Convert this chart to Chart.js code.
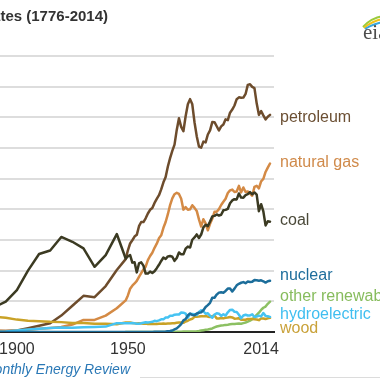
<!DOCTYPE html>
<html>
<head>
<meta charset="utf-8">
<script src="https://cdn.jsdelivr.net/npm/chart.js@4.4.1/dist/chart.umd.min.js"></script>
<style>
  html, body { margin: 0; padding: 0; background: #fff; }
  body { width: 380px; height: 380px; overflow: hidden; position: relative;
         font-family: 'Liberation Sans', Arial, sans-serif; }
  #chart { position: absolute; left: 0; top: 0; }
  .title { position: absolute; right: 272px; top: 8px; white-space: nowrap;
           font-weight: bold; font-size: 15px; line-height: 16px; color: #333; }
  .lbl { position: absolute; left: 280px; white-space: nowrap; font-size: 16px; line-height: 16px; }
  .source { position: absolute; right: 250px; top: 362px; white-space: nowrap;
            font-size: 14px; line-height: 14px; color: #777; }
  .source i { color: #2a78b6; }
  .rule { position: absolute; left: 140px; right: 0; top: 377px; height: 1px; background: #dcdcdc; }
  .logo { position: absolute; left: 363px; top: 22px; font-family: 'Liberation Serif', serif;
          font-size: 21px; line-height: 21px; color: #4d4d4d; }
  .swoosh { position: absolute; left: 359px; top: 13px; }
</style>
</head>
<body>
<canvas id="chart" width="380" height="380"></canvas>
<div class="title">History of energy consumption in the United States (1776-2014)</div>
<svg class="swoosh" width="24" height="18">
  <path d="M4 14 Q12 5 24 3" stroke="#9bcb3c" stroke-width="2" fill="none"/>
  <path d="M5 15 Q13 8 24 6" stroke="#f2c318" stroke-width="2" fill="none"/>
  <path d="M6 16 Q14 11 24 9" stroke="#3aa6dd" stroke-width="2" fill="none"/>
</svg>
<div class="logo">eia</div>
<div class="source">Source: U.S. Energy Information Administration, <i>Monthly Energy Review</i></div>
<div class="rule"></div>
<script>
/* ================================================================
   US energy consumption by source · Chart.js
   quadrillion Btu, 5-year steps before 1949, annual after
   ================================================================ */

const years = [
    1890, 1895, 1900, 1905, 1910, 1915, 1920, 1925, 1930, 1935, 1940, 1945,
    1949,
    1950, 1951, 1952, 1953, 1954, 1955, 1956, 1957, 1958, 1959,
    1960, 1961, 1962, 1963, 1964, 1965, 1966, 1967, 1968, 1969,
    1970, 1971, 1972, 1973, 1974, 1975, 1976, 1977, 1978, 1979,
    1980, 1981, 1982, 1983, 1984, 1985, 1986, 1987, 1988, 1989,
    1990, 1991, 1992, 1993, 1994, 1995, 1996, 1997, 1998, 1999,
    2000, 2001, 2002, 2003, 2004, 2005, 2006, 2007, 2008, 2009,
    2010, 2011, 2012, 2013, 2014,
];

const petroleum = [
    0.16, 0.17, 0.23, 0.61, 1.01, 1.42, 2.68, 4.28, 5.90, 5.68, 7.49, 10.11,
    11.88,
    13.32, 14.43, 14.96, 15.56, 15.84, 17.25, 17.94, 17.93, 18.53, 19.32,
    19.92, 20.22, 21.05, 21.70, 22.30, 23.25, 24.40, 25.28, 26.98, 28.34,
    29.52, 30.56, 32.95, 34.84, 33.45, 32.73, 35.18, 37.12, 37.97, 37.12,
    34.20, 31.93, 30.23, 30.05, 31.05, 30.92, 32.20, 32.87, 34.22, 34.21,
    33.55, 32.85, 33.53, 33.84, 34.67, 34.55, 35.76, 36.27, 36.93, 37.96,
    38.26, 38.19, 38.22, 38.81, 40.29, 40.39, 39.96, 39.77, 37.28, 35.40,
    36.01, 35.32, 34.67, 35.10, 35.40,
];

const naturalGas = [
    0.26, 0.15, 0.25, 0.37, 0.54, 0.67, 0.81, 1.21, 1.97, 1.97, 2.67, 3.87,
    5.15,
    5.97, 7.05, 7.55, 7.91, 8.33, 9.00, 9.61, 10.19, 10.66, 11.72,
    12.39, 12.93, 13.73, 14.40, 15.29, 15.77, 16.99, 17.94, 19.21, 20.68,
    21.79, 22.47, 22.70, 22.51, 21.73, 19.95, 20.35, 19.93, 20.00, 20.67,
    20.24, 19.74, 18.36, 17.20, 18.39, 17.70, 16.59, 17.64, 18.45, 19.60,
    19.60, 20.03, 20.71, 21.23, 21.73, 22.67, 23.09, 23.22, 22.83, 22.91,
    23.82, 22.77, 23.56, 22.83, 22.91, 22.56, 22.22, 23.66, 23.84, 23.42,
    24.57, 24.95, 26.09, 26.81, 27.47,
];

const coal = [
    4.06, 4.95, 6.84, 10.00, 12.71, 13.29, 15.50, 14.71, 13.64, 10.63, 12.54, 15.97,
    11.98,
    12.35, 12.55, 11.31, 11.37, 9.72, 11.17, 11.35, 10.82, 9.53, 9.52,
    9.84, 9.62, 9.91, 10.41, 10.96, 11.58, 12.14, 11.91, 12.33, 12.38,
    12.27, 11.60, 12.08, 12.97, 12.66, 12.66, 13.58, 13.92, 13.77, 15.04,
    15.42, 15.91, 15.32, 15.89, 17.07, 17.48, 17.26, 18.01, 18.85, 18.93,
    19.17, 18.99, 19.12, 19.84, 19.91, 20.09, 21.00, 21.45, 21.66, 21.62,
    22.58, 21.91, 21.90, 22.32, 22.47, 22.80, 22.45, 22.75, 22.39, 19.69,
    20.83, 19.66, 17.38, 18.04, 17.99,
];

const nuclear = [
    0, 0, 0, 0, 0, 0, 0, 0, 0, 0, 0, 0,
    0,
    0, 0, 0, 0, 0, 0, 0, 0, 0, 0,
    0.01, 0.02, 0.03, 0.04, 0.04, 0.04, 0.06, 0.09, 0.14, 0.15,
    0.24, 0.41, 0.58, 0.91, 1.27, 1.90, 2.11, 2.70, 3.02, 2.78,
    2.74, 3.01, 3.13, 3.20, 3.55, 4.08, 4.38, 4.75, 5.59, 5.60,
    6.10, 6.42, 6.48, 6.41, 6.69, 7.08, 7.09, 6.60, 7.07, 7.61,
    7.86, 8.03, 8.14, 7.96, 8.22, 8.16, 8.21, 8.46, 8.43, 8.36,
    8.43, 8.27, 8.06, 8.27, 8.34,
];

const otherRenewables = [
    null, null, null, null, null, null, null, null, null, null, null, null,
    0,
    0, 0, 0, 0, 0, 0, 0, 0, 0, 0,
    0, 0, 0, 0, 0, 0, 0, 0, 0, 0,
    0.01, 0.01, 0.03, 0.05, 0.06, 0.07, 0.08, 0.08, 0.07, 0.09,
    0.10, 0.13, 0.18, 0.24, 0.30, 0.36, 0.42, 0.50, 0.58, 0.75,
    0.90, 0.98, 1.05, 1.10, 1.16, 1.20, 1.25, 1.30, 1.32, 1.36,
    1.40, 1.35, 1.45, 1.55, 1.68, 1.85, 2.10, 2.35, 2.80, 3.15,
    3.60, 3.95, 4.15, 4.60, 4.94,
];

const hydroelectric = [
    0.02, 0.09, 0.25, 0.39, 0.54, 0.66, 0.74, 0.70, 0.79, 0.83, 0.88, 1.44,
    1.42,
    1.42, 1.44, 1.47, 1.41, 1.36, 1.36, 1.43, 1.52, 1.59, 1.55,
    1.61, 1.66, 1.82, 1.77, 1.89, 2.06, 2.06, 2.35, 2.35, 2.65,
    2.63, 2.82, 2.86, 2.86, 3.18, 3.15, 2.98, 2.33, 2.94, 2.93,
    2.90, 2.76, 3.27, 3.53, 3.39, 2.97, 3.07, 2.63, 2.33, 2.84,
    3.05, 2.99, 2.62, 2.89, 2.68, 3.21, 3.59, 3.64, 3.30, 3.27,
    2.81, 2.24, 2.69, 2.82, 2.69, 2.70, 2.87, 2.45, 2.51, 2.67,
    2.54, 3.10, 2.63, 2.56, 2.47,
];

const wood = [
    2.52, 2.31, 2.02, 1.84, 1.77, 1.66, 1.61, 1.47, 1.45, 1.34, 1.36, 1.26,
    1.55,
    1.56, 1.54, 1.48, 1.43, 1.39, 1.42, 1.40, 1.35, 1.38, 1.32,
    1.32, 1.30, 1.30, 1.32, 1.34, 1.33, 1.37, 1.34, 1.38, 1.40,
    1.43, 1.43, 1.50, 1.53, 1.54, 1.50, 1.71, 1.84, 2.04, 2.15,
    2.47, 2.50, 2.51, 2.56, 2.55, 2.61, 2.50, 2.44, 2.57, 2.68,
    2.22, 2.19, 2.28, 2.22, 2.32, 2.37, 2.44, 2.37, 2.18, 2.21,
    2.26, 2.01, 1.98, 2.00, 2.12, 2.14, 2.11, 2.09, 2.04, 1.93,
    2.22, 2.21, 2.11, 2.23, 2.32,
];

const xTicks = [1900, 1950, 2014];
const yMax   = 45;
const yStep  = 5;

const C = {
    petroleum:  '#6d4c2c',
    gas:        '#d48a45',
    coal:       '#3b3a22',
    nuclear:    '#1b6d9a',
    other:      '#8cc063',
    hydro:      '#46c3f2',
    wood:       '#c9a227',
    grid:       '#dddddd',
    axis:       '#222222',
    text:       '#333333',
};

// order: lower = drawn on top
const series = [
    { name: 'petroleum',        values: petroleum,       color: C.petroleum, label: '#6b4f33', top: 109, order: 6 },
    { name: 'natural gas',      values: naturalGas,      color: C.gas,       label: '#d08a4a', top: 154, order: 5 },
    { name: 'coal',             values: coal,            color: C.coal,      label: '#4a4939', top: 212, order: 4 },
    { name: 'nuclear',          values: nuclear,         color: C.nuclear,   label: '#1f6e9c', top: 267, order: 0 },
    { name: 'other renewables', values: otherRenewables, color: C.other,     label: '#87bc5d', top: 288, order: 3 },
    { name: 'hydroelectric',    values: hydroelectric,   color: C.hydro,     label: '#3fbef0', top: 306, order: 1 },
    { name: 'wood',             values: wood,            color: C.wood,      label: '#c9a23a', top: 320, order: 2 },
];

Chart.defaults.font.family = "'Liberation Sans', Arial, sans-serif";
Chart.defaults.color = C.text;

/* ── end-of-line labels ──────────────────────────────────────── */
series.forEach(s => {
    const d = document.createElement('div');
    d.className = 'lbl';
    d.textContent = s.name;
    d.style.top = s.top + 'px';
    d.style.color = s.label;
    document.body.appendChild(d);
});

/* ── chart ───────────────────────────────────────────────────── */
(function() {
    const ctx = document.getElementById('chart').getContext('2d');
    const toPoints = vals => years.map((y, i) => ({ x: y, y: vals[i] }));

    new Chart(ctx, {
        type: 'line',
        data: {
            datasets: series.map(s => ({
                label: s.name,
                data: toPoints(s.values),
                borderColor: s.color,
                borderWidth: 2.5,
                borderJoinStyle: 'round',
                borderCapStyle: 'round',
                pointRadius: 0,
                tension: 0,
                fill: false,
                order: s.order,
            }))
        },
        options: {
            responsive: false,
            animation: false,
            devicePixelRatio: 1,
            layout: { padding: { left: 0, right: 106, top: 56, bottom: 0 } },
            plugins: {
                legend: { display: false },
                tooltip: { enabled: false },
            },
            scales: {
                x: {
                    type: 'linear',
                    min: 1892.4,
                    max: 2015.8,
                    afterBuildTicks: a => { a.ticks = xTicks.map(v => ({ value: v })); },
                    // plot runs off the left edge, so no room kept for the first label
                    afterFit: a => { a.height = 48; a.paddingLeft = 0; a.paddingRight = 0; },
                    grid: { display: false, drawTicks: false },
                    border: { display: true, color: C.axis, width: 2 },
                    ticks: {
                        color: C.text,
                        font: { size: 16 },
                        padding: 8,
                        maxRotation: 0,
                        autoSkip: false,
                        // last label sits a bit left of its tick in the original
                        callback: v => v === 2014 ? '2014    ' : String(v),
                    },
                },
                y: {
                    min: 0,
                    max: yMax,
                    afterFit: a => { a.width = 0; a.paddingTop = 0; a.paddingBottom = 0; },
                    grid: { color: C.grid, lineWidth: 2, drawTicks: false },
                    border: { display: false },
                    ticks: { display: false, stepSize: yStep },
                },
            }
        }
    });
})();
</script>
</body>
</html>
